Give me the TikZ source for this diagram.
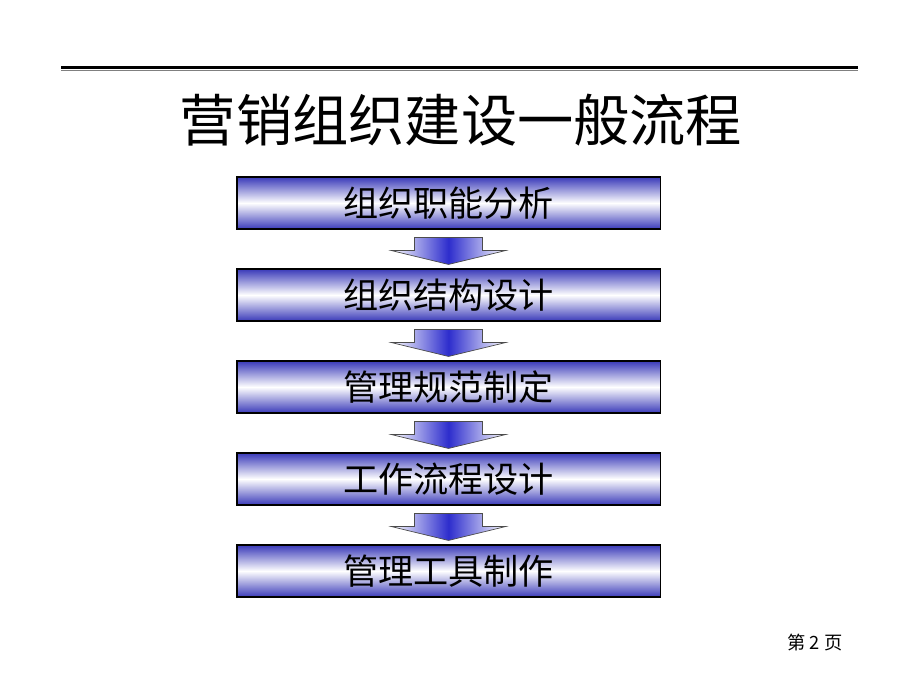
\documentclass[tikz,border=0pt]{standalone}
\usepackage{fontspec}
\newfontfamily\cjk{Noto Sans CJK SC}
\usepackage{tikz}
\usetikzlibrary{positioning,calc}
\definecolor{boxblue}{RGB}{58,58,185}
\definecolor{arrowblue}{RGB}{45,45,205}
\tikzset{
    x=0.025cm,
    y=-0.025cm,
    block/.style = {
        draw=black,
        shape=rectangle,
        minimum width=10.575cm,
        minimum height=1.3cm,
        inner sep=0pt,
        line width=0.8pt,
        top color=boxblue,
        bottom color=boxblue,
        middle color=white,
        font=\cjk\fontsize{25}{25}\selectfont
    },
    flowarrow/.style = {
        draw=gray!60!black,
        line width=0.5pt,
        left color=white,
        right color=white,
        middle color=arrowblue
    },
}

\begin{document}
\begin{tikzpicture}
    \useasboundingbox[fill=white] (0,0) rectangle (920,690);

    % rule under the header
    \draw[line width=2.2pt] (61,67.5) -- (858,67.5);
    \draw[line width=0.9pt, color=gray] (61,70.6) -- (858,70.6);

    \node[font=\cjk\fontsize{40}{40}\selectfont] (title) at (461,120) {营销组织建设一般流程};

    \node[block] (func) at (448.5,203) {组织职能分析};
    \node[block] (struct) at (448.5,295) {组织结构设计};
    \node[block] (rules) at (448.5,387) {管理规范制定};
    \node[block] (flow) at (448.5,479) {工作流程设计};
    \node[block] (tools) at (448.5,571) {管理工具制作};

    \foreach \a/\b in {func/struct, struct/rules, rules/flow, flow/tools}
        \path[flowarrow] ($(\a.south)+(-34,8)$) -- ($(\a.south)+(34,8)$)
            -- ($(\a.south)+(34,21)$) -- ($(\a.south)+(57,21)$)
            -- ($(\b.north)+(0,-4)$) -- ($(\a.south)+(-57,21)$)
            -- ($(\a.south)+(-34,21)$) -- cycle;

    \node[font=\cjk\fontsize{13}{13}\selectfont] (page) at (815,643) {第 2 页};
\end{tikzpicture}
\end{document}
